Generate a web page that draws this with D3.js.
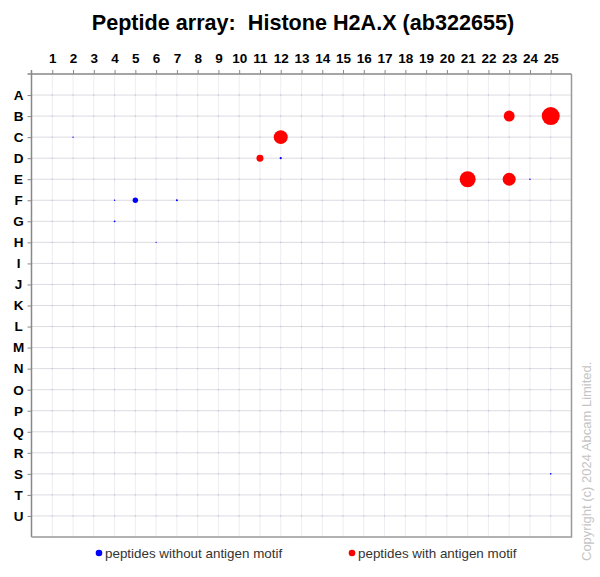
<!DOCTYPE html>
<html><head><meta charset="utf-8">
<script src="https://cdn.jsdelivr.net/npm/d3@7"></script>
<style>body{margin:0;background:#fff}svg{display:block}</style>
</head><body>
<svg id="c" width="600" height="577"></svg>
<script>
const columns = d3.range(1, 26).map(String);
const rows = ["A","B","C","D","E","F","G","H","I","J","K","L","M","N","O","P","Q","R","S","T","U"];
// peptides without antigen motif: [row, column, signal]
const withoutMotif = [
  ["C", 2, 0.005], ["D", 12, 0.015], ["F", 4, 0.006], ["F", 5, 0.09], ["F", 7, 0.012],
  ["G", 4, 0.01], ["H", 6, 0.004], ["E", 24, 0.006], ["S", 25, 0.008]
];
// peptides with antigen motif: [row, column, signal]
const withMotif = [
  ["B", 23, 0.37], ["B", 25, 1.0], ["C", 12, 0.60], ["D", 11, 0.15],
  ["E", 21, 0.79], ["E", 23, 0.52]
];
const legendLabels = ["peptides without antigen motif", "peptides with antigen motif"];

const svg = d3.select("#c");
const font = "'Liberation Sans', Arial, sans-serif";
const x = d3.scaleLinear().domain([0, 26]).range([31.5, 571.5]);
const y = d3.scaleLinear().domain([0, 22]).range([74, 537]);
const r = d3.scaleSqrt().domain([0, 1]).range([0, 9]);
const col = c => x(+c);
const row = rw => y(rows.indexOf(rw) + 1);

// title
svg.append("text").attr("x", 303).attr("y", 30).attr("text-anchor", "middle")
  .style("font", `bold 21.6px ${font}`).attr("fill", "#000")
  .text("Peptide array:\u00a0 Histone H2A.X (ab322655)");

const g = svg.append("g");
// vertical grid
g.selectAll(".vg").data(columns).join("line")
  .attr("x1", d => col(d)).attr("x2", d => col(d))
  .attr("y1", y(0)).attr("y2", y(22))
  .attr("stroke", "#ededf2").attr("stroke-width", 1);
// horizontal grid
g.selectAll(".hg").data(rows).join("line")
  .attr("x1", x(0)).attr("x2", x(26))
  .attr("y1", d => row(d)).attr("y2", d => row(d))
  .attr("stroke", "#dcdce2").attr("stroke-width", 1);
// intersection marks
const inter = [];
rows.forEach(rw => columns.forEach(c => inter.push([rw, c])));
g.selectAll(".ix").data(inter).join("rect")
  .attr("x", d => col(d[1]) - 0.5).attr("y", d => row(d[0]) - 0.5)
  .attr("width", 1).attr("height", 1).attr("fill", "#b4b4dc");

// axes
const topAxis = d3.axisTop(x).tickValues(d3.range(1, 26)).tickSize(4).tickFormat(d => columns[d - 1]);
const ax = svg.append("g").attr("transform", `translate(0,${y(0)})`).call(topAxis);
ax.select(".domain").attr("stroke", "#888").attr("stroke-width", 1.5).attr("d", `M${x(0)},-4V0H${x(26)}`);
ax.selectAll(".tick line").attr("stroke", "#888");
ax.selectAll(".tick text").attr("dy", "-0.3em").style("font", `bold 13.5px ${font}`).attr("fill", "#000");

const leftAxis = d3.axisLeft(y).tickValues(d3.range(1, 22)).tickSize(4).tickFormat(d => rows[d - 1]);
const ay = svg.append("g").attr("transform", `translate(${x(0)},0)`).call(leftAxis);
ay.select(".domain").attr("stroke", "#888").attr("stroke-width", 1.5).attr("d", `M-4,${y(0)}H0V${y(22)}`);
ay.selectAll(".tick line").attr("stroke", "#888");
ay.selectAll(".tick text").attr("x", -13).attr("text-anchor", "middle").style("font", `bold 13.5px ${font}`).attr("fill", "#000");

// right & bottom border
svg.append("path").attr("d", `M${x(26)},${y(0)}V${y(22)}H${x(0)}`)
  .attr("fill", "none").attr("stroke", "#999").attr("stroke-width", 1.5);

// points
svg.append("g").selectAll("circle").data(withoutMotif).join("circle")
  .attr("cx", d => col(d[1])).attr("cy", d => row(d[0])).attr("r", d => r(d[2])).attr("fill", "#0000ff");
svg.append("g").selectAll("circle").data(withMotif).join("circle")
  .attr("cx", d => col(d[1])).attr("cy", d => row(d[0])).attr("r", d => r(d[2])).attr("fill", "#ff0000");

// legend
const leg = [[99, "#0000ff", legendLabels[0]], [352, "#ff0000", legendLabels[1]]];
leg.forEach(([lx, c, t]) => {
  svg.append("circle").attr("cx", lx).attr("cy", 553).attr("r", 3.3).attr("fill", c);
  svg.append("text").attr("x", lx + 6).attr("y", 557.5).style("font", `13.4px ${font}`).attr("fill", "#333").text(t);
});

// copyright
svg.append("text").attr("transform", "translate(591,561) rotate(-90)")
  .style("font", `13px ${font}`).attr("fill", "#c4c4c4")
  .text("Copyright (c) 2024 Abcam Limited.");
</script>
</body></html>
